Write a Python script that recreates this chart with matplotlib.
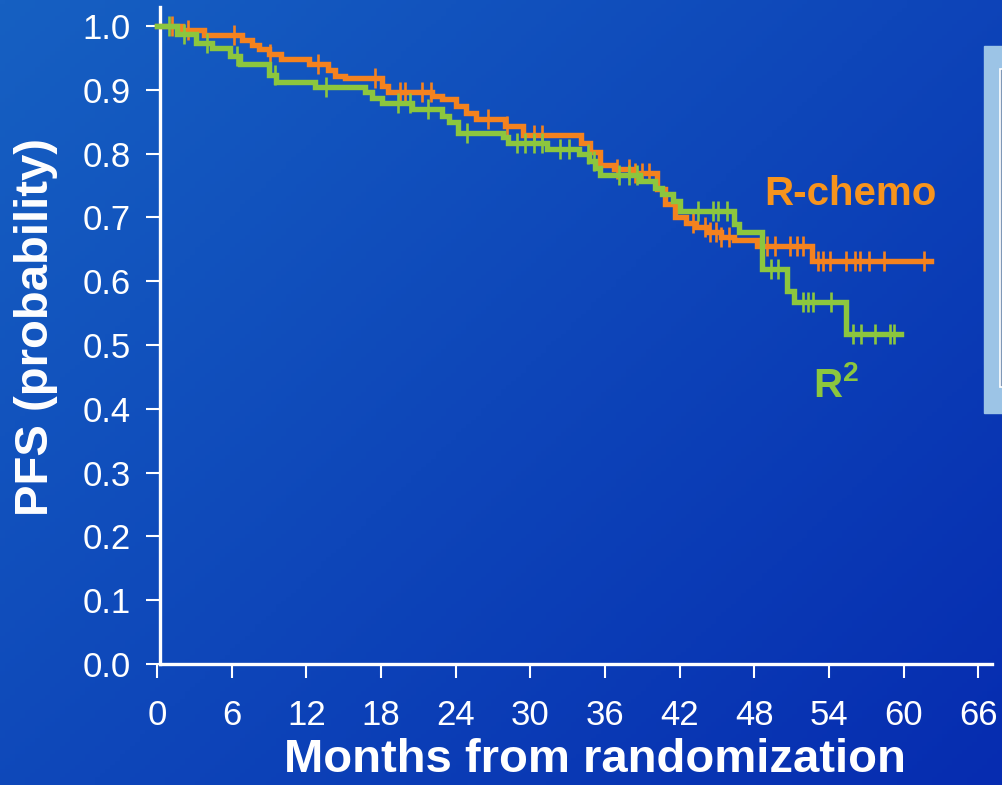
import numpy as np
import matplotlib
matplotlib.use('Agg')
import matplotlib.pyplot as plt
from matplotlib.patches import Rectangle

plt.rcParams['font.family'] = ['Liberation Sans', 'DejaVu Sans']
plt.rcParams['mathtext.fontset'] = 'custom'
plt.rcParams['mathtext.bf'] = 'Liberation Sans:bold'
plt.rcParams['mathtext.rm'] = 'Liberation Sans:bold'

# Kaplan-Meier steps (months, PFS probability)
chemo_t = [0, 2.0, 3.75, 6.8, 7.6, 8.2, 9.0, 10.0, 12.2, 13.7, 14.3, 15.1, 18.1, 18.6,
           22.1, 22.9, 24.0, 24.8, 25.6, 28.0, 29.4, 34.1, 34.8, 35.6, 36.7, 38.2,
           40.2, 40.8, 41.6, 42.5, 43.3, 44.3, 45.3, 46.4, 48.2, 52.6]
chemo_s = [1.0, 0.994, 0.986, 0.979, 0.971, 0.964, 0.957, 0.949, 0.940, 0.932, 0.922, 0.918,
           0.906, 0.896, 0.890, 0.885, 0.875, 0.864, 0.854, 0.844, 0.830, 0.817, 0.802,
           0.783, 0.776, 0.770, 0.745, 0.721, 0.700, 0.692, 0.685, 0.677, 0.669, 0.664,
           0.655, 0.632]
chemo_end = 62.2
chemo_cens = [1.2, 2.5, 6.2, 9.1, 12.9, 17.5, 19.5, 19.9, 21.3, 22.0, 26.6, 28.1, 30.3, 30.9,
              37.0, 37.9, 38.4, 39.0, 39.5, 43.1, 44.0, 44.4, 44.9, 45.3, 46.0, 49.0, 49.7,
              50.9, 51.4, 51.9, 53.1, 53.5, 54.1, 55.4, 56.1, 56.5, 57.2, 58.4, 61.6]

r2_t = [0, 1.6, 3.1, 4.4, 5.9, 6.7, 9.0, 9.6, 12.7, 16.7, 17.3, 18.1, 20.5, 22.9, 23.5,
        24.2, 27.8, 28.2, 31.3, 33.9, 34.7, 35.2, 35.6, 38.8, 40.0, 40.6, 41.5, 42.0,
        46.4, 46.8, 48.6, 50.6, 51.2, 55.4]
r2_s = [1.0, 0.988, 0.974, 0.966, 0.953, 0.940, 0.924, 0.913, 0.904, 0.896, 0.888, 0.880,
        0.870, 0.859, 0.849, 0.833, 0.826, 0.817, 0.807, 0.799, 0.789, 0.778, 0.767,
        0.757, 0.747, 0.737, 0.726, 0.710, 0.690, 0.677, 0.619, 0.585, 0.567, 0.517]
r2_end = 59.8
r2_cens = [1.0, 2.2, 4.0, 6.4, 9.5, 13.6, 19.4, 20.3, 21.8, 24.9, 28.9, 29.6, 30.3, 30.9,
           32.4, 33.1, 34.6, 35.1, 37.1, 37.9, 38.6, 43.5, 44.7, 45.1, 45.8, 49.3, 49.9,
           51.9, 52.3, 52.7, 54.2, 55.9, 56.6, 57.7, 58.9, 59.2]

x_ticks = list(range(0, 67, 6))
y_ticks = [i / 10 for i in range(11)]

orange = '#f4821f'
green = '#8cc63e'

fig = plt.figure(figsize=(10.02, 7.85), dpi=100)

# blue gradient background
bg = fig.add_axes([0, 0, 1, 1], zorder=-10)
yy, xx = np.mgrid[0:1:200j, 0:1:200j]
k = np.clip(0.55 * xx + 0.45 * yy, 0, 1)[..., None]
c0 = np.array([22, 96, 194]) / 255
c1 = np.array([6, 44, 176]) / 255
bg.imshow(c0 * (1 - k) + c1 * k, aspect='auto', extent=[0, 1, 0, 1], origin='upper')
bg.axis('off')

# cut-off panel on the right edge
fig.patches.append(Rectangle((984 / 1002, 1 - 413 / 785), 20 / 1002, 367 / 785,
                             transform=fig.transFigure, color='#9cc4e6', zorder=-5))
fig.patches.append(Rectangle((1000 / 1002, 1 - 387 / 785), 10 / 1002, 318 / 785,
                             transform=fig.transFigure, facecolor='#7f98b8',
                             edgecolor='white', lw=1.2, zorder=-4))

ax = fig.add_axes([153.3 / 1002, 121 / 785, 838.7 / 1002, 657 / 785])
ax.set_facecolor('none')
ax.set_xlim(-0.3, 67.1)
ax.set_ylim(0, 1.03)


def km(ax, t, s, end, cens, color, z):
    tt = list(t) + [end]
    ss = list(s) + [s[-1]]
    ax.step(tt, ss, where='post', color=color, lw=3.9, zorder=z, solid_joinstyle='miter')
    idx = np.searchsorted(t, cens, side='right') - 1
    ax.plot(cens, np.array(s)[idx], ls='none', marker='|', ms=14, mew=1.9,
            color=color, zorder=z)


km(ax, chemo_t, chemo_s, chemo_end, chemo_cens, orange, 3)
km(ax, r2_t, r2_s, r2_end, r2_cens, green, 4)

for side in ['top', 'right']:
    ax.spines[side].set_visible(False)
ax.spines['left'].set_position(('data', 0.25))
ax.spines['bottom'].set_bounds(0.25, 67.1)
ax.spines['left'].set_bounds(0, 1.03)
for side in ['left', 'bottom']:
    ax.spines[side].set_color('white')
    ax.spines[side].set_linewidth(2.4)

ax.set_xticks(x_ticks)
ax.set_yticks(y_ticks)
ax.set_yticklabels(['%.1f' % v for v in y_ticks])
ax.tick_params(colors='white', labelsize=25, width=1.5, length=10)
ax.tick_params(axis='y', pad=11)
ax.tick_params(axis='x', pad=15)

ax.set_xlabel('Months from randomization', fontsize=34, fontweight='bold', color='white')
ax.xaxis.set_label_coords(0.527, -0.112)
fig.text(36 / 1002, 1 - 327 / 785, 'PFS (probability)', rotation=90, fontsize=34,
         fontweight='bold', color='white', ha='center', va='center')

ax.text(55.7, 0.737, 'R-chemo', color='#f7941d', fontsize=29, fontweight='bold',
        ha='center', va='center')
ax.text(54.6, 0.437, r'R$^{\mathbf{2}}$', color=green, fontsize=29, fontweight='bold',
        ha='center', va='center')

fig.savefig('out.png', dpi=100)
